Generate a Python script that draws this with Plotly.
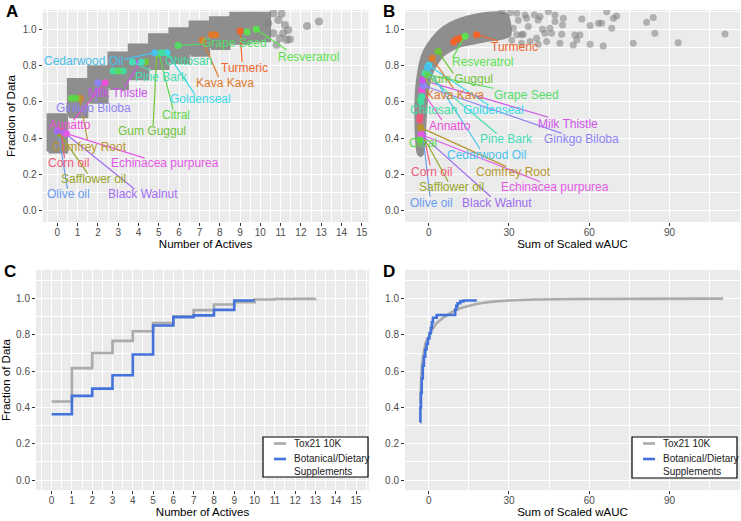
import plotly.graph_objects as go

# ---------------- data ----------------
# Panel A: dense jittered Tox21 cloud, summarised per number of actives (low/high of the cloud)
cloud_actives = [0, 1, 2, 3, 4, 5, 6, 7, 8, 9, 10]
cloud_lo = [0.327, 0.52, 0.60, 0.676, 0.73, 0.787, 0.82, 0.86, 0.897, 0.925, 0.94]
cloud_hi = [0.526, 0.72, 0.79, 0.866, 0.91, 0.967, 1.0, 1.037, 1.06, 1.086, 1.086]
# Panel A: sparse outlying Tox21 points
sparseA_x = [10.64, 11.05, 10.89, 11.21, 11.38, 11.13, 11.30, 11.46, 10.97, 10.80, 10.64, 10.39, 12.30, 12.89]
sparseA_y = [1.088, 1.085, 1.051, 1.024, 0.996, 0.978, 0.941, 0.945, 0.950, 0.914, 0.978, 1.033, 1.018, 1.042]

# Panel B: dense Tox21 band outline (sum of scaled wAUC vs fraction)
bandB_x = [-3.6, -4.2, -4.4, -4.4, -4.1, -3.5, -2.6, -1.5, 0, 2, 4.5, 8, 12, 17, 22, 26, 29,
           30, 27, 22, 17, 12, 8, 5, 2.5, 0.5, -0.8, -1.5, -2.0, -2.4, -3.0]
bandB_y = [0.32, 0.40, 0.50, 0.60, 0.68, 0.75, 0.82, 0.87, 0.91, 0.95, 0.99, 1.025, 1.05, 1.07, 1.082, 1.085, 1.075,
           0.97, 0.955, 0.945, 0.93, 0.915, 0.89, 0.86, 0.81, 0.75, 0.66, 0.55, 0.42, 0.33, 0.31]
# Panel B: sparse Tox21 points
sparseB_x = [36.0, 36.6, 40.9, 41.6, 44.7, 47.2, 47.2, 50.3, 50.0, 57.2, 60.3, 63.4, 64.6, 66.5, 68.4, 69.0,
             70.2, 81.4, 83.9, 84.5, 93.2, 110.7, 76.4, 65.2, 60.3, 54.0, 55.3, 56.5, 54.6, 49.7, 49.0, 45.9,
             45.3, 43.4, 44.1, 40.3, 40.9, 35.3, 37.2, 32.9, 34.7, 31.6, 34.7, 31.0, 32.9, 37.9, 39.5, 42.5,
             27.5, 30.5, 33.5]
sparseB_y = [1.079, 1.061, 1.051, 1.070, 1.097, 1.079, 1.042, 1.061, 1.024, 1.057, 1.020, 1.033, 1.033, 1.097,
             1.005, 1.061, 1.073, 1.038, 1.064, 0.978, 0.926, 0.974, 0.923, 0.908, 0.917, 0.913, 0.941, 0.968,
             0.968, 0.972, 0.923, 0.978, 1.005, 0.978, 0.932, 0.950, 0.917, 0.972, 1.015, 1.088, 0.969, 1.005,
             0.923, 0.940, 0.969, 0.932, 1.08, 1.0,
             1.097, 1.092, 1.05]

# Botanicals / dietary supplements
bot_names = ["Olive oil", "Safflower oil", "Corn oil", "Comfrey Root", "Annatto", "Ginkgo Biloba",
             "Milk Thistle", "Black Walnut", "Echinacea purpurea", "Gum Guggul", "Citral", "Pine Bark",
             "Goldenseal", "Chitosan", "Cedarwood Oil", "Grape Seed", "Kava Kava", "Turmeric", "Resveratrol"]
bot_colors = ["#6A9BF0", "#9AA52A", "#F05A78", "#B8962E", "#EE4FD8", "#8F84F5",
              "#CC55E8", "#A06CF0", "#E35BE5", "#72C43A", "#5CD648", "#45DDB5",
              "#3CD9EA", "#42DC9E", "#48C0EC", "#55DC68", "#DD7A2C", "#F0642A", "#5CE050"]

# Panel A: points (number of actives, fraction), label positions, leader-line ends
a_pt_x = [[0.05], [0.12], [0.2, 1.15], [1.1], [2.35], [2.0], [4.05], [0.35, 0.0], [0.45], [4.9, 4.35],
          [5.0, 0.7, 0.9], [3.7, 4.15], [5.4], [5.15, 2.75, 3.25], [4.8], [5.95, 3.0], [7.15, 7.6, 7.8],
          [9.0], [9.8, 9.35]]
a_pt_y = [[0.43], [0.425], [0.44, 0.62], [0.62], [0.705], [0.705], [0.815], [0.43, 0.44], [0.425],
          [0.865, 0.82], [0.868, 0.62, 0.62], [0.82, 0.82], [0.87], [0.87, 0.77, 0.77], [0.87],
          [0.91, 0.77], [0.94, 0.97, 0.97], [0.99], [1.0, 0.985]]
a_lab_x = [0.54, 1.77, 0.54, 1.6, 0.62, 1.77, 3.0, 4.2, 5.3, 4.65, 5.85, 5.14, 7.03, 6.45, 1.28, 8.75, 8.26, 9.21, 12.36]
a_lab_y = [0.09, 0.175, 0.261, 0.353, 0.472, 0.564, 0.65, 0.09, 0.261, 0.44, 0.528, 0.739, 0.614, 0.827,
           0.827, 0.923, 0.702, 0.785, 0.849]
a_seg_x = [0.5, 1.5, 0.35, 1.5, 0.8, 1.9, 3.3, 3.8, 4.3, 4.72, 5.7, 4.6, 6.75, 5.6, 3.3, 7.3, 7.95, 9.1, 11.3]
a_seg_y = [0.12, 0.205, 0.29, 0.385, 0.5, 0.595, 0.68, 0.12, 0.29, 0.47, 0.56, 0.77, 0.645, 0.84, 0.835,
           0.92, 0.735, 0.82, 0.885]

# Panel B: points (sum of scaled wAUC, fraction), label positions, leader-line ends
b_pt_x = [[-2.2], [-2.5], [-3.2, -3.4], [-3.0], [-2.6], [-2.0], [-2.3], [-2.4], [-2.8], [3.5],
          [-3.2, -3.1], [-1.4], [0.0], [-2.9, -2.6], [-0.4], [-0.7], [1.3], [17.9, 9.3, 10.5, 11.7], [13.6]]
b_pt_y = [[0.42], [0.42], [0.518, 0.5], [0.458], [0.665], [0.69], [0.72], [0.415], [0.42], [0.877],
          [0.39, 0.61], [0.757], [0.80], [0.6, 0.63], [0.79], [0.75], [0.84], [0.97, 0.93, 0.945, 0.95], [0.962]]
b_lab_x = [0.9, 8.6, 0.9, 31.6, 8.0, 57.2, 52.2, 25.7, 47.2, 11.5, -2.0, 29.1, 24.2, 1.7, 21.7, 36.4, 9.8, 31.9, 20.0]
b_lab_y = [0.044, 0.132, 0.215, 0.215, 0.467, 0.393, 0.48, 0.044, 0.132, 0.726, 0.375, 0.393, 0.555, 0.555,
           0.307, 0.64, 0.64, 0.904, 0.818]
b_seg_x = [0.5, 7.3, 0.5, 29.0, 4.9, 49.7, 44.7, 23.2, 41.6, 9.2, None, 25.4, 22.3, None, 19.2, 24.2, 9.2, 26.0, 9.0]
b_seg_y = [0.077, 0.16, 0.25, 0.243, 0.5, 0.426, 0.515, 0.077, 0.16, 0.757, None, 0.426, 0.583, None, 0.34,
           0.675, 0.675, 0.935, 0.845]

# Panel C: cumulative fraction by number of actives
tox_actives = list(range(0, 14))
tox_frac = [0.433, 0.617, 0.70, 0.767, 0.82, 0.866, 0.903, 0.937, 0.968, 0.98, 0.995, 0.998, 0.999, 1.0]
bds_actives = list(range(0, 11))
bds_frac = [0.363, 0.464, 0.504, 0.578, 0.692, 0.852, 0.898, 0.908, 0.938, 0.99, 0.99]

# Panel D: cumulative fraction by sum of scaled wAUC
tox_wauc = [-3.1, -2.8, -2.5, -2.0, -1.5, -1.0, 0, 1, 2, 3, 5, 7, 10, 13, 16, 20, 25, 30, 40, 60, 80, 110]
tox_wauc_frac = [0.42, 0.55, 0.63, 0.69, 0.73, 0.76, 0.79, 0.82, 0.845, 0.865, 0.89, 0.91, 0.937, 0.953,
                 0.964, 0.976, 0.985, 0.99, 0.995, 0.998, 0.999, 1.0]
bds_wauc = [-3.3, -3.1, -2.9, -2.6, -2.2, -1.8, -1.3, -0.8, -0.3, 0.3, 0.8, 1.2, 1.6, 3.0, 9.9, 10.3, 10.8,
            11.8, 13.0, 18.0]
bds_wauc_frac = [0.32, 0.40, 0.48, 0.56, 0.63, 0.68, 0.72, 0.75, 0.78, 0.81, 0.84, 0.87, 0.895, 0.91, 0.94,
                 0.96, 0.975, 0.985, 0.99, 0.99]

legend_labels = ["Tox21 10K", "Botanical/Dietary<br>Supplements"]

# ---------------- figure ----------------
W, H = 741, 521
FONT = "Liberation Sans, Arial, Helvetica, sans-serif"
CLOUD = "#8E8E8E"
GREY_LINE = "#ABABAB"
BLUE = "#4472DB"

fig = go.Figure()


def px_x(p):
    return p / W


def px_y(p):
    return 1 - p / H


# Panel A cloud blocks
bx, by = [], []
for n, lo, hi in zip(cloud_actives, cloud_lo, cloud_hi):
    bx += [n - 0.43, n + 0.43, n + 0.43, n - 0.43, n - 0.43, None]
    by += [lo, lo, hi, hi, lo, None]
fig.add_trace(go.Scatter(x=bx, y=by, mode="lines", fill="toself", fillcolor=CLOUD,
                         line=dict(color=CLOUD, width=4), hoverinfo="skip", showlegend=False,
                         xaxis="x", yaxis="y"))
fig.add_trace(go.Scatter(x=sparseA_x, y=sparseA_y, mode="markers",
                         marker=dict(size=8, color="rgba(128,128,128,0.6)"), showlegend=False,
                         xaxis="x", yaxis="y"))

# Panel B cloud
fig.add_trace(go.Scatter(x=bandB_x + [bandB_x[0]], y=bandB_y + [bandB_y[0]], mode="lines", fill="toself",
                         fillcolor=CLOUD, line=dict(color=CLOUD, width=5, shape="spline", smoothing=0.6),
                         hoverinfo="skip", showlegend=False, xaxis="x2", yaxis="y2"))
fig.add_trace(go.Scatter(x=sparseB_x, y=sparseB_y, mode="markers",
                         marker=dict(size=7, color="rgba(128,128,128,0.55)"), showlegend=False,
                         xaxis="x2", yaxis="y2"))

annotations = []
for i, name in enumerate(bot_names):
    col = bot_colors[i]
    for (ptx, pty, lx, ly, sx, sy, xa, ya) in [
        (a_pt_x[i], a_pt_y[i], a_lab_x[i], a_lab_y[i], a_seg_x[i], a_seg_y[i], "x", "y"),
        (b_pt_x[i], b_pt_y[i], b_lab_x[i], b_lab_y[i], b_seg_x[i], b_seg_y[i], "x2", "y2"),
    ]:
        if sx is not None:
            fig.add_trace(go.Scatter(x=[ptx[0], sx], y=[pty[0], sy], mode="lines",
                                     line=dict(color=col, width=1.2), showlegend=False,
                                     hoverinfo="skip", xaxis=xa, yaxis=ya))
        fig.add_trace(go.Scatter(x=ptx, y=pty, mode="markers", name=name,
                                 marker=dict(size=7, color=col), showlegend=False,
                                 xaxis=xa, yaxis=ya))
        annotations.append(dict(x=lx, y=ly, xref=xa, yref=ya, text=name, showarrow=False,
                                xanchor="center", yanchor="middle",
                                font=dict(family=FONT, size=12, color=col)))

# Panel C
fig.add_trace(go.Scatter(x=tox_actives, y=tox_frac, mode="lines", name="Tox21 10K",
                         line=dict(shape="hv", color=GREY_LINE, width=2.6), showlegend=False,
                         xaxis="x3", yaxis="y3"))
fig.add_trace(go.Scatter(x=bds_actives, y=bds_frac, mode="lines", name="Botanical/Dietary Supplements",
                         line=dict(shape="hv", color=BLUE, width=2.6), showlegend=False,
                         xaxis="x3", yaxis="y3"))
# Panel D
fig.add_trace(go.Scatter(x=tox_wauc, y=tox_wauc_frac, mode="lines", name="Tox21 10K",
                         line=dict(shape="spline", color=GREY_LINE, width=2.6), showlegend=False,
                         xaxis="x4", yaxis="y4"))
fig.add_trace(go.Scatter(x=bds_wauc, y=bds_wauc_frac, mode="lines", name="Botanical/Dietary Supplements",
                         line=dict(shape="hv", color=BLUE, width=2.6), showlegend=False,
                         xaxis="x4", yaxis="y4"))

# panel letters
for letter, x, y in [("A", 12, 12), ("B", 389, 12), ("C", 10, 271), ("D", 389, 271)]:
    annotations.append(dict(x=px_x(x), y=px_y(y), xref="paper", yref="paper", text="<b>%s</b>" % letter,
                            xanchor="center", yanchor="middle",
                            showarrow=False, font=dict(family=FONT, size=17, color="black")))

# legends (boxed, bottom-right of panels C and D)
shapes = []
for (bx0, bx1, by0, by1) in [(263, 368, 437, 477), (632, 737, 437, 478)]:
    shapes.append(dict(type="rect", xref="paper", yref="paper", x0=px_x(bx0), x1=px_x(bx1),
                       y0=px_y(by1), y1=px_y(by0), line=dict(color="black", width=1.2),
                       fillcolor="white", layer="above"))
    keyx0, keyx1 = bx0 + 11, bx0 + 23
    for lab, col, ky, ty in [(legend_labels[0], GREY_LINE, by0 + 6.5, by0 + 6.5),
                             (legend_labels[1], BLUE, by0 + 22, by0 + 27.5)]:
        shapes.append(dict(type="line", xref="paper", yref="paper", x0=px_x(keyx0), x1=px_x(keyx1),
                           y0=px_y(ky), y1=px_y(ky), line=dict(color=col, width=2.6), layer="above"))
        annotations.append(dict(x=px_x(bx0 + 29), y=px_y(ty), xref="paper", yref="paper", text=lab,
                                xanchor="left", yanchor="middle", align="left", showarrow=False,
                                font=dict(family=FONT, size=10, color="#222222")))


def xaxis(domain, rng, dtick, mdtick, title, anchor):
    return dict(domain=domain, range=rng, dtick=dtick, tick0=0, showgrid=True, gridcolor="white",
                gridwidth=1.1, zeroline=False, showline=False, ticks="outside", ticklen=3,
                tickcolor="#333333", tickfont=dict(family=FONT, size=10, color="#4D4D4D"),
                ticklabelstandoff=-2,
                minor=dict(dtick=mdtick, tick0=0, showgrid=True, gridcolor="white", gridwidth=0.5, ticks=""),
                title=dict(text=title, font=dict(family=FONT, size=11.5, color="black"), standoff=0),
                anchor=anchor, automargin=False)


def yaxis(domain, rng, title, anchor, standoff):
    return dict(domain=domain, range=rng, dtick=0.2, tick0=0, tickformat=".1f", showgrid=True,
                gridcolor="white", gridwidth=1.1, zeroline=False, showline=False, ticks="outside",
                ticklen=3, tickcolor="#333333", tickfont=dict(family=FONT, size=10, color="#4D4D4D"),
                minor=dict(dtick=0.1, tick0=0, showgrid=True, gridcolor="white", gridwidth=0.5, ticks=""),
                title=dict(text=title, font=dict(family=FONT, size=11.5, color="black"), standoff=standoff),
                anchor=anchor, automargin=False)


domA_x = [px_x(42.7), px_x(368.3)]
domB_x = [px_x(405), px_x(740)]
domC_x = [px_x(36), px_x(369)]
dom_top = [px_y(222), px_y(10)]
dom_bot = [px_y(490), px_y(270)]

fig.update_layout(
    width=W, height=H, margin=dict(l=0, r=0, t=0, b=0),
    paper_bgcolor="white", plot_bgcolor="#EBEBEB",
    font=dict(family=FONT),
    xaxis=xaxis(domA_x, [-0.72, 15.32], 1, 0.5, "Number of Actives", "y"),
    yaxis=yaxis(dom_top, [-0.062, 1.106], "Fraction of Data", "x", 4),
    xaxis2=xaxis(domB_x, [-8.85, 116.3], 30, 15, "Sum of Scaled wAUC", "y2"),
    yaxis2=yaxis(dom_top, [-0.062, 1.106], "", "x2", 6),
    xaxis3=xaxis(domC_x, [-0.77, 15.64], 1, 0.5, "Number of Actives", "y3"),
    yaxis3=yaxis(dom_bot, [-0.055, 1.158], "Fraction of Data", "x3", 3),
    xaxis4=xaxis(domB_x, [-8.85, 116.3], 30, 15, "Sum of Scaled wAUC", "y4"),
    yaxis4=yaxis(dom_bot, [-0.055, 1.158], "", "x4", 6),
    annotations=annotations,
    shapes=shapes,
    showlegend=False,
)

fig.write_html("out.html", config={"displayModeBar": False},
               post_script="document.body.style.margin='0px';")
